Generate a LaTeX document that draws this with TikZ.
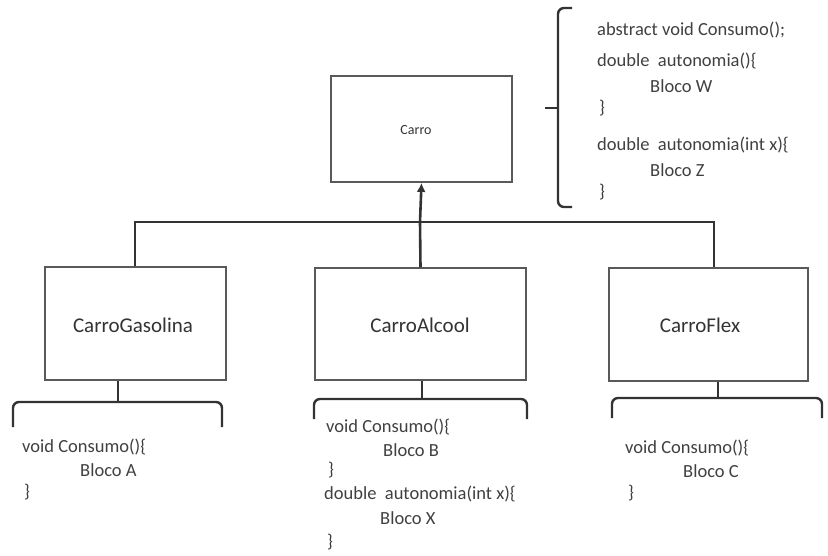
\documentclass[tikz,border=0pt]{standalone}
\usepackage{fontspec}
\setmainfont{Carlito}
\usetikzlibrary{arrows.meta}
\begin{document}
\begin{tikzpicture}[x=1pt,y=-1pt,
  classbox/.style={draw=black!65,line width=1.8pt,inner sep=0pt},
  wire/.style={draw=black!80,line width=2.6pt},
  brace/.style={draw=black!80,line width=2.4pt,rounded corners=6pt},
  code/.style={anchor=west,inner sep=0pt,text=black!75,font=\fontsize{18.5}{20}\selectfont},
  label/.style={text=black!80,font=\fontsize{21}{24}\selectfont}]
\useasboundingbox (0,0) rectangle (828,555);

% class boxes
\node[classbox,minimum width=181pt,minimum height=106pt] (carro) at (421.5,129) {};
\node[label,font=\fontsize{14}{16}\selectfont] (carrolbl) at (416,130) {Carro};
\node[classbox,minimum width=181pt,minimum height=113pt] (gas) at (135.5,323.5) {};
\node[label] (gaslbl) at (133,325) {CarroGasolina};
\node[classbox,minimum width=211pt,minimum height=112pt] (alc) at (420.5,324) {};
\node[label] (alclbl) at (420,325) {CarroAlcool};
\node[classbox,minimum width=199pt,minimum height=113pt] (flex) at (708.5,324.5) {};
\node[label] (flexlbl) at (700,325) {CarroFlex};

% inheritance bus
\coordinate (bus) at (420,222);
\draw[wire] (gas.north -| 135,0) |- (bus) -| (flex.north -| 714,0);
\draw[wire] (alc.north) -- (bus);
\draw[wire,-{Latex[length=9pt,width=9pt]}] (bus) -- (carro.south);

% brace beside Carro
\coordinate (tb) at (572,8);
\coordinate (bb) at (572,207);
\coordinate (tip) at (545,108);
\draw[brace] (tb) -- (558,8) -- (558,207) -- (bb);
\draw[wire] (tip) -- (558,108);

\node[code] (c1) at (597,30) {abstract void Consumo();};
\node[code] (c2) at (597,61) {double\ \ autonomia()\{};
\node[code] (c3) at (650,86) {Bloco W};
\node[code] (c4) at (599,108) {\}};
\node[code] (c5) at (597,145) {double\ \ autonomia(int x)\{};
\node[code] (c6) at (650,170) {Bloco Z};
\node[code] (c7) at (599,192) {\}};

% braces under the subclasses
\coordinate (ga) at (118,402);
\draw[wire] (gas.south -| ga) -- (ga);
\draw[brace] (13,427) -- (13,402) -- (222,402) -- (222,427);
\node[code] (g1) at (22,447) {void Consumo()\{};
\node[code] (g2) at (80,470) {Bloco A};
\node[code] (g3) at (24,492) {\}};

\coordinate (aa) at (422,399);
\draw[wire] (alc.south -| aa) -- (aa);
\draw[brace] (314,419) -- (314,399) -- (527,399) -- (527,419);
\node[code] (a1) at (326,427) {void Consumo()\{};
\node[code] (a2) at (383,450) {Bloco B};
\node[code] (a3) at (328,470) {\}};
\node[code] (a4) at (324,494) {double\ \ autonomia(int x)\{};
\node[code] (a5) at (380,518) {Bloco X};
\node[code] (a6) at (327,542) {\}};

\coordinate (fa) at (718,398);
\draw[wire] (flex.south -| fa) -- (fa);
\draw[brace] (612,418) -- (612,398) -- (822,398) -- (822,418);
\node[code] (f1) at (625,448) {void Consumo()\{};
\node[code] (f2) at (683,471) {Bloco C};
\node[code] (f3) at (628,493) {\}};
\end{tikzpicture}
\end{document}
